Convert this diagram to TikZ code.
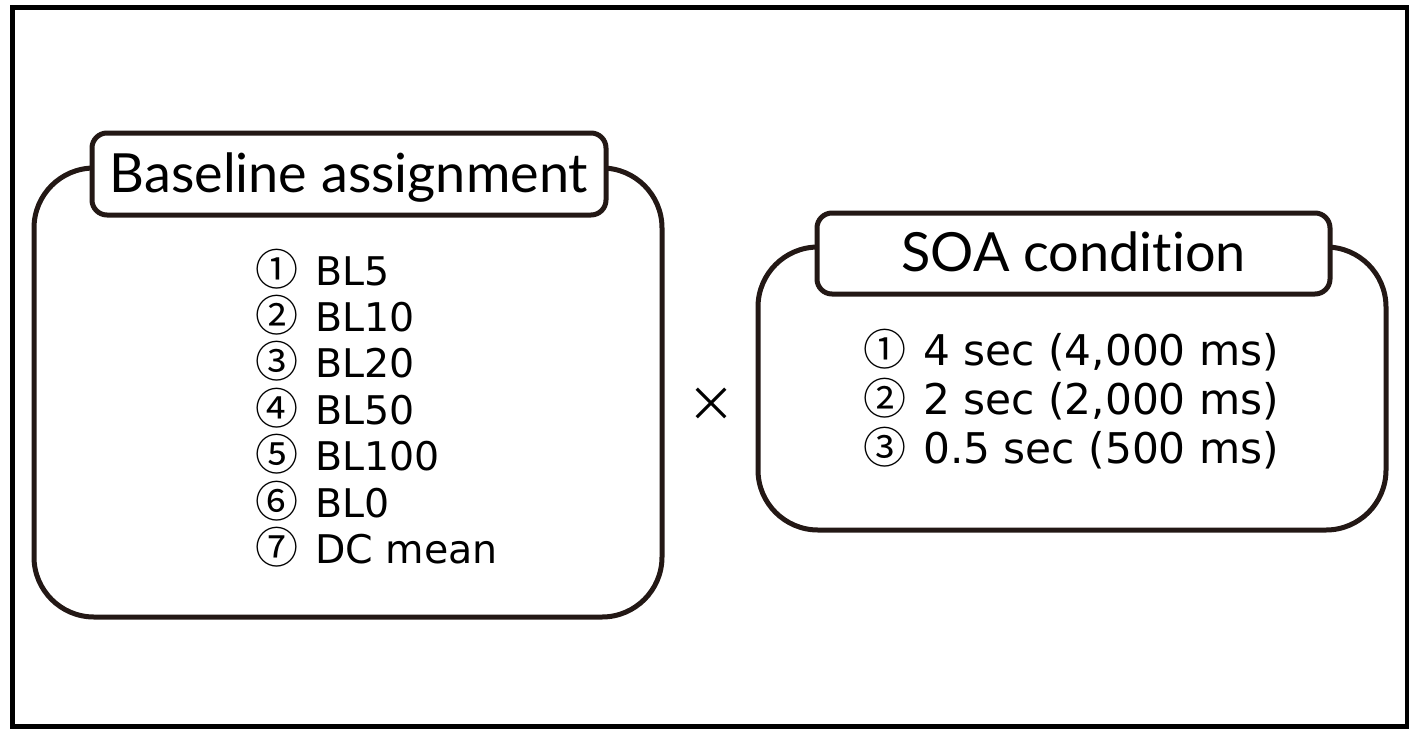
\documentclass[tikz,border=0pt]{standalone}
\usepackage{fontspec}
\setmainfont{DejaVu Sans}
\newfontfamily\headfont[Ligatures=NoCommon]{Lato}
\newfontfamily\itemfont{DejaVu Sans}
\newfontfamily\jpfont{Noto Sans CJK JP}
\definecolor{ink}{HTML}{231815}
% circled item number followed by its label
\newcommand{\numitem}[2]{\makebox[60pt][l]{\jpfont\fontsize{43}{48}\selectfont #1}#2}
\tikzset{
  frame/.style={draw=black, line width=5pt},
  groupbox/.style={draw=ink, line width=5pt, rounded corners=60pt, inner sep=0pt},
  titlebox/.style={draw=ink, line width=5pt, fill=white, rounded corners=15pt,
    inner sep=0pt, text height=46pt, text depth=10pt,
    font=\headfont\fontsize{54}{60}\selectfont},
  leftitem/.style={font=\itemfont\fontsize{39.5}{44}\selectfont, anchor=base west, inner sep=0pt},
  rightitem/.style={font=\itemfont\fontsize{42.3}{46}\selectfont, anchor=base west, inner sep=0pt},
  times/.style={font=\jpfont\fontsize{48}{52}\selectfont, inner sep=0pt},
}
\begin{document}
\begin{tikzpicture}[x=1pt, y=-1pt]
  \useasboundingbox (0,0) rectangle (1409,729);
  % outer frame
  \draw[frame] (12.5,7.5) rectangle (1407,726.5);

  % baseline assignment group
  \node[groupbox, minimum width=628pt, minimum height=449pt] (blbox) at (348,392.5) {};
  \node[titlebox, minimum width=514pt, minimum height=82pt] (bltitle) at (349,174) {Baseline assignment};
  \node[leftitem] (bl1) at (255,285.0) {\numitem{①}{BL5}};
  \node[leftitem] (bl2) at (255,331.4) {\numitem{②}{BL10}};
  \node[leftitem] (bl3) at (255,377.8) {\numitem{③}{BL20}};
  \node[leftitem] (bl4) at (255,424.2) {\numitem{④}{BL50}};
  \node[leftitem] (bl5) at (255,470.6) {\numitem{⑤}{BL100}};
  \node[leftitem] (bl6) at (255,517.0) {\numitem{⑥}{BL0}};
  \node[leftitem] (bl7) at (255,563.4) {\numitem{⑦}{DC mean}};

  % multiplication sign
  \node[times] (cross) at (711,405) {×};

  % SOA condition group
  \node[groupbox, minimum width=628pt, minimum height=283pt] (soabox) at (1072,388.5) {};
  \node[titlebox, minimum width=513pt, minimum height=81pt] (soatitle) at (1073.5,253.5) {SOA condition};
  \node[rightitem] (soa1) at (863,365) {\numitem{①}{4 sec (4,000 ms)}};
  \node[rightitem] (soa2) at (863,414) {\numitem{②}{2 sec (2,000 ms)}};
  \node[rightitem] (soa3) at (863,463) {\numitem{③}{0.5 sec (500 ms)}};
\end{tikzpicture}
\end{document}
